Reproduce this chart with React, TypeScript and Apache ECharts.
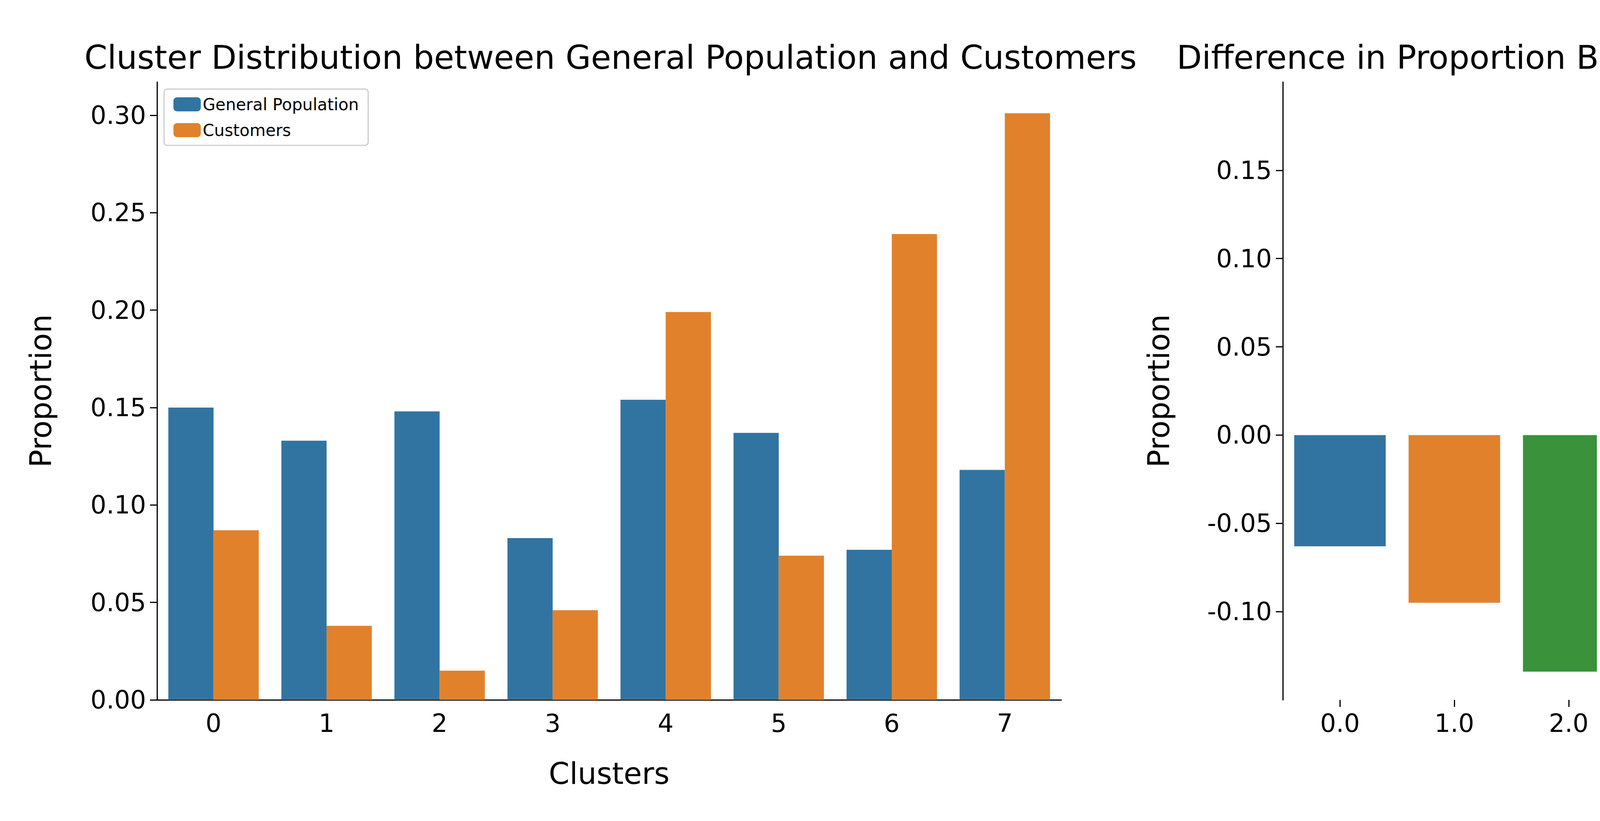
import React, { useEffect, useRef } from 'react';
import * as echarts from 'echarts';

const clusters = ['0', '1', '2', '3', '4', '5', '6', '7'];
const clusterLabels = ['0.0', '1.0', '2.0', '3.0', '4.0', '5.0', '6.0', '7.0'];
const generalPop = [0.150, 0.133, 0.148, 0.083, 0.154, 0.137, 0.077, 0.118];
const customers = [0.087, 0.038, 0.015, 0.046, 0.199, 0.074, 0.239, 0.301];
const diff = [-0.063, -0.095, -0.134, -0.037, 0.046, -0.064, 0.162, 0.183];
const diffColors = ['#3274a1', '#e1812c', '#3a923a', '#c03d3e', '#9372b2', '#845b53', '#d684bd', '#7f7f7f'];

const App: React.FC = () => {
  const ref = useRef<HTMLDivElement>(null);

  useEffect(() => {
    if (!ref.current) return;
    const chart = echarts.init(ref.current, undefined, { renderer: 'svg' });
    const font = 'DejaVu Sans';
    const axisText = { fontSize: 64, color: '#000', fontFamily: font };
    const nameText = { fontSize: 76, color: '#000', fontFamily: font };
    chart.setOption({
      animation: false,
      textStyle: { fontFamily: font },
      title: [
        { text: 'Cluster Distribution between General Population and Customers', left: 1558, top: 100, textAlign: 'center', textStyle: { fontSize: 84, fontWeight: 'normal', color: '#000', fontFamily: font } },
        { text: 'Difference in Proportion Between General Population and Customers', left: 4447, top: 100, textAlign: 'center', textStyle: { fontSize: 84, fontWeight: 'normal', color: '#000', fontFamily: font } },
      ],
      legend: {
        data: ['General Population', 'Customers'],
        orient: 'vertical',
        left: 420,
        top: 228,
        itemWidth: 70,
        itemHeight: 36,
        itemGap: 24,
        padding: [18, 24],
        borderColor: '#ccc',
        borderWidth: 3,
        borderRadius: 8,
        textStyle: { fontSize: 42, color: '#000', fontFamily: font },
      },
      grid: [
        { left: 402, top: 210, width: 2315, height: 1581 },
        { left: 3284, top: 210, width: 2342, height: 1581 },
      ],
      xAxis: [
        {
          gridIndex: 0, type: 'category', data: clusters,
          axisLine: { lineStyle: { color: '#000', width: 3 } },
          axisTick: { length: 18, lineStyle: { width: 3 }, alignWithLabel: true },
          axisLabel: { ...axisText, margin: 28 },
          name: 'Clusters', nameLocation: 'middle', nameGap: 150, nameTextStyle: nameText,
        },
        {
          gridIndex: 1, type: 'category', data: clusterLabels,
          axisLine: { show: false, onZero: false },
          axisTick: { show: true, length: 18, lineStyle: { width: 3, color: '#000' }, alignWithLabel: true },
          axisLabel: { ...axisText, margin: 28 },
          name: 'Clusters', nameLocation: 'middle', nameGap: 150, nameTextStyle: nameText,
        },
      ],
      yAxis: [
        {
          gridIndex: 0, type: 'value', min: 0, max: 0.317, interval: 0.05,
          axisLine: { show: true, lineStyle: { color: '#000', width: 3 } },
          axisTick: { show: true, length: 18, lineStyle: { width: 3 } },
          splitLine: { show: false },
          axisLabel: { ...axisText, margin: 28, showMaxLabel: false, formatter: (v: number) => v.toFixed(2) },
          name: 'Proportion', nameLocation: 'middle', nameGap: 260, nameTextStyle: nameText,
        },
        {
          gridIndex: 1, type: 'value', min: -0.15, max: 0.2, interval: 0.05,
          axisLine: { show: true, lineStyle: { color: '#000', width: 3 } },
          axisTick: { show: true, length: 18, lineStyle: { width: 3 } },
          splitLine: { show: false },
          axisLabel: { ...axisText, margin: 28, showMaxLabel: false, showMinLabel: false, formatter: (v: number) => v.toFixed(2) },
          name: 'Proportion', nameLocation: 'middle', nameGap: 280, nameTextStyle: nameText,
        },
      ],
      series: [
        { name: 'General Population', type: 'bar', xAxisIndex: 0, yAxisIndex: 0, data: generalPop, itemStyle: { color: '#3274a1' }, barGap: '0%', barCategoryGap: '20%' },
        { name: 'Customers', type: 'bar', xAxisIndex: 0, yAxisIndex: 0, data: customers, itemStyle: { color: '#e1812c' }, barGap: '0%', barCategoryGap: '20%' },
        {
          name: 'Difference', type: 'bar', xAxisIndex: 1, yAxisIndex: 1, barCategoryGap: '20%',
          data: diff.map((v, i) => ({ value: v, itemStyle: { color: diffColors[i] } })),
        },
      ],
    });
    return () => chart.dispose();
  }, []);

  return <div ref={ref} style={{ margin: -8, width: 5985, height: 2085, background: '#fff' }} />;
};

export default App;
